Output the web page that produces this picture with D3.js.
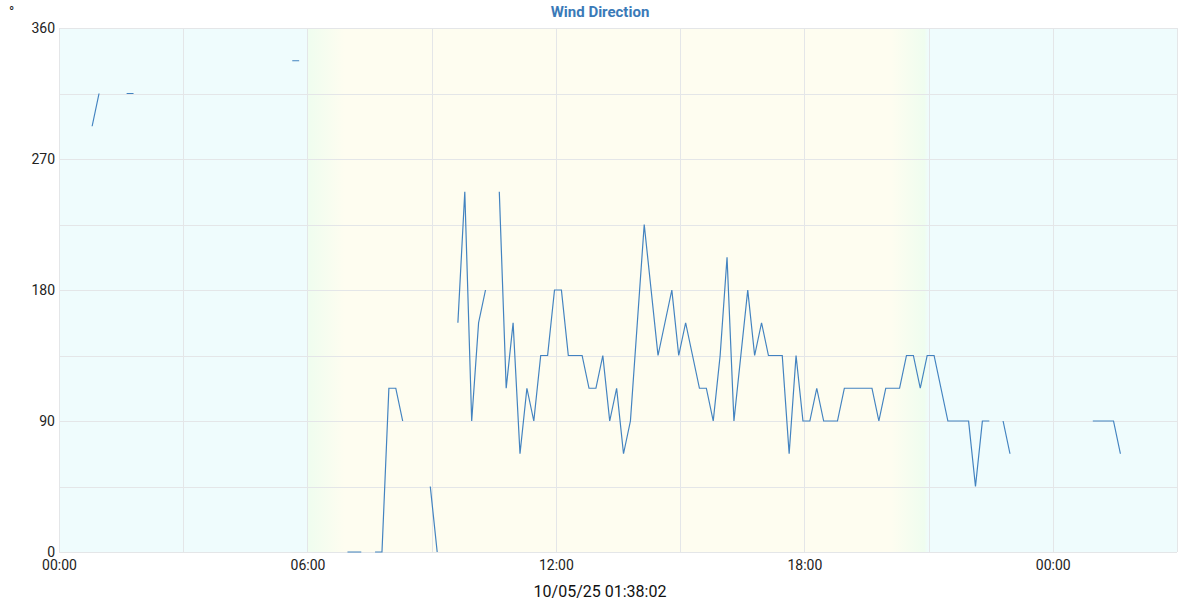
<!DOCTYPE html>
<html>
<head>
<meta charset="utf-8">
<script src="https://cdn.jsdelivr.net/npm/d3@7/dist/d3.min.js"></script>
<style>
  html, body { margin: 0; padding: 0; background: #ffffff; }
  svg { display: block; font-family: Roboto, "Noto Sans", sans-serif; }
</style>
</head>
<body>
<svg id="chart" width="1200" height="600"></svg>
<script>
// ---- data ----
const chartTitle = "Wind Direction";
const footerLabel = "10/05/25 01:38:02";
const unitLabel = "°";
// sample times: minutes after midnight of first day, every 10 minutes starting 00:08
const startMinute = 8;
const stepMinutes = 10;
// wind direction (degrees), null = no reading
const directions = [
  292.5, null, 292.5, null, 292.5, 315, null, null, null, 315,      // 00:08 - 01:38
  315, null, null, null, null, null, null, null, null, null,        // 01:48 - 03:18
  null, null, null, null, null, 315, null, null, 337.5, null,       // 03:28 - 04:58
  null, null, null, 337.5, 337.5, null, null, null, null, null,     // 05:08 - 06:38
  null, 0, 0, 0, null, 0, 0, 112.5, 112.5, 90,                      // 06:48 - 08:18
  null, null, null, 45, 0, null, null, 157.5, 247.5, 90,            // 08:28 - 09:58
  157.5, 180, null, 247.5, 112.5, 157.5, 67.5, 112.5, 90, 135,      // 10:08 - 11:38
  135, 180, 180, 135, 135, 135, 112.5, 112.5, 135, 90,              // 11:48 - 13:18
  112.5, 67.5, 90, 157.5, 225, 180, 135, 157.5, 180, 135,           // 13:28 - 14:58
  157.5, 135, 112.5, 112.5, 90, 135, 202.5, 90, 135, 180,           // 15:08 - 16:38
  135, 157.5, 135, 135, 135, 67.5, 135, 90, 90, 112.5,              // 16:48 - 18:18
  90, 90, 90, 112.5, 112.5, 112.5, 112.5, 112.5, 90, 112.5,         // 18:28 - 19:58
  112.5, 112.5, 135, 135, 112.5, 135, 135, 112.5, 90, 90,           // 20:08 - 21:38
  90, 90, 45, 90, 90, null, 90, 67.5, null, null,                   // 21:48 - 23:18
  null, null, null, null, null, null, null, null, null, 90,         // 23:28 - 00:58
  90, 90, 90, 67.5                                                  // 01:08 - 01:38
];
const yTickValues = [0, 90, 180, 270, 360];
const yGridValues = [0, 45, 90, 135, 180, 225, 270, 315, 360];
const xTickHours = [0, 6, 12, 18, 24];
const xTickLabels = ["00:00", "06:00", "12:00", "18:00", "00:00"];
const xGridHours = [0, 3, 6, 9, 12, 15, 18, 21, 24, 27];
const domainHours = [0, 27];
// daylight background: [hour, colour]
const skyStops = [
  [0, "#effcfd"], [6, "#effcfd"], [6.0, "#effdef"], [6.9, "#fefdf0"],
  [20.1, "#fefdf0"], [20.9, "#effdef"], [21.0, "#effcfd"], [27, "#effcfd"]
];

// ---- layout ----
const svg = d3.select("#chart");
const margin = { left: 59, right: 23, top: 28, bottom: 48 };
const W = 1200, H = 600;
const x = d3.scaleLinear().domain(domainHours).range([margin.left, W - margin.right]);
const y = d3.scaleLinear().domain([0, 360]).range([H - margin.bottom, margin.top]);

const points = directions.map((v, i) => ({ h: (startMinute + i * stepMinutes) / 60, v }));

// background gradient
const defs = svg.append("defs");
const grad = defs.append("linearGradient").attr("id", "sky")
  .attr("gradientUnits", "userSpaceOnUse")
  .attr("x1", x(domainHours[0])).attr("x2", x(domainHours[1]))
  .attr("y1", 0).attr("y2", 0);
const span = domainHours[1] - domainHours[0];
skyStops.forEach(([h, c]) => {
  grad.append("stop").attr("offset", ((h - domainHours[0]) / span)).attr("stop-color", c);
});

svg.append("rect")
  .attr("x", x(domainHours[0])).attr("y", y(360))
  .attr("width", x(domainHours[1]) - x(domainHours[0]))
  .attr("height", y(0) - y(360))
  .attr("fill", "url(#sky)");

// grid
const grid = svg.append("g").attr("stroke", "#e4e6e8").attr("stroke-width", 1).attr("shape-rendering", "crispEdges");
grid.selectAll("line.h").data(yGridValues).join("line")
  .attr("x1", x(domainHours[0])).attr("x2", x(domainHours[1]))
  .attr("y1", d => Math.round(y(d)) + 0.5).attr("y2", d => Math.round(y(d)) + 0.5);
grid.selectAll("line.v").data(xGridHours).join("line")
  .attr("y1", y(0)).attr("y2", y(360))
  .attr("x1", d => Math.round(x(d)) + 0.5).attr("x2", d => Math.round(x(d)) + 0.5);

// axes
const yAxis = d3.axisLeft(y).tickValues(yTickValues).tickSize(0).tickPadding(4);
const gy = svg.append("g").attr("transform", `translate(${margin.left},0)`).call(yAxis);
gy.select(".domain").remove();
gy.selectAll("text").attr("font-size", 14).attr("fill", "#222").attr("font-family", "Roboto");

const xAxis = d3.axisBottom(x).tickValues(xTickHours).tickSize(0).tickPadding(8)
  .tickFormat((d, i) => xTickLabels[i]);
const gx = svg.append("g").attr("transform", `translate(0,${y(0)})`).call(xAxis);
gx.select(".domain").remove();
gx.selectAll("text").attr("font-size", 14).attr("fill", "#222").attr("font-family", "Roboto");

// line
const line = d3.line()
  .defined(d => d.v !== null)
  .x(d => x(d.h))
  .y(d => y(d.v));
svg.append("path")
  .datum(points)
  .attr("d", line)
  .attr("fill", "none")
  .attr("stroke", "#4383c0")
  .attr("stroke-width", 1.2)
  .attr("stroke-linejoin", "miter")
  .attr("stroke-linecap", "butt");

// title & labels
svg.append("text").attr("x", 600).attr("y", 17).attr("text-anchor", "middle")
  .attr("font-size", 15).attr("font-weight", "bold").attr("fill", "#3a7ab8")
  .attr("font-family", "Roboto").text(chartTitle);
svg.append("text").attr("x", 9).attr("y", 17)
  .attr("font-size", 14).attr("fill", "#222").attr("font-family", "Roboto").text(unitLabel);
svg.append("text").attr("x", 600).attr("y", 597).attr("text-anchor", "middle")
  .attr("font-size", 16).attr("fill", "#111").attr("font-family", "Roboto").text(footerLabel);
</script>
</body>
</html>
